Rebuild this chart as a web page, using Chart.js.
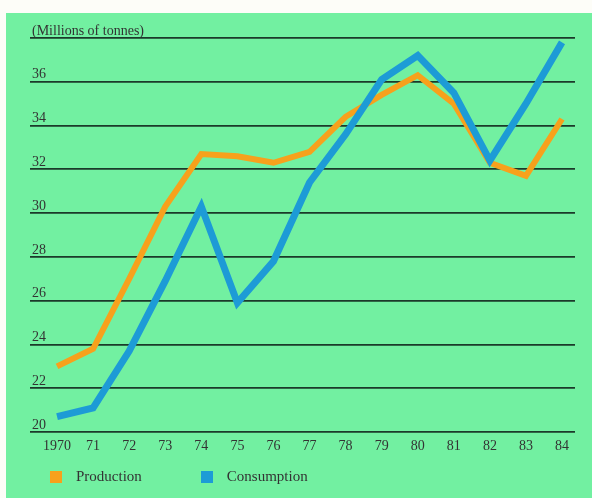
<!DOCTYPE html>
<html>
<head>
<meta charset="utf-8">
<script src="https://cdn.jsdelivr.net/npm/chart.js@4/dist/chart.umd.min.js"></script>
<style>
  html, body { margin:0; padding:0; background:#fdfdf8; }
  body { width:592px; height:498px; position:relative; overflow:hidden; font-family:'Liberation Serif', serif; }
  .panel { position:absolute; left:6px; top:13px; width:586px; height:485px; background:#72f0a1; }
  #graphique { position:absolute; left:0; top:0; }
  .legende { position:absolute; top:468px; left:50px; display:flex; color:#333; font-size:15px; }
  .legende span { display:flex; align-items:center; }
  .legende i { display:inline-block; width:12px; height:12px; margin-right:14px; }
</style>
</head>
<body>
<div class="panel"></div>
<canvas id="graphique" width="592" height="498"></canvas>
<div class="legende">
  <span style="margin-right:59px"><i style="background:#f7a11c"></i>Production</span>
  <span><i style="background:#1d9bd6"></i>Consumption</span>
</div>
<script>
const annees       = ['1970','71','72','73','74','75','76','77','78','79','80','81','82','83','84'];
const production   = [23.0, 23.8, 27.0, 30.3, 32.7, 32.6, 32.3, 32.8, 34.4, 35.4, 36.3, 35.0, 32.3, 31.7, 34.3];
const consommation = [20.7, 21.1, 23.7, 26.9, 30.3, 25.9, 27.8, 31.4, 33.6, 36.1, 37.2, 35.5, 32.4, 35.0, 37.8];
const graduations  = [20, 22, 24, 26, 28, 30, 32, 34, 36, 38];

const enPoints = (serie) => serie.map((v, i) => ({ x: i, y: v }));

const police = { family: "'Liberation Serif', serif", size: 14 };

new Chart(document.getElementById('graphique'), {
  type: 'line',
  data: {
    datasets: [
      {
        label: 'Consumption',
        data: enPoints(consommation),
        borderColor: '#1d9bd6',
        borderWidth: 7,
        borderJoinStyle: 'miter',
        borderCapStyle: 'butt',
        pointRadius: 0,
        tension: 0
      },
      {
        label: 'Production',
        data: enPoints(production),
        borderColor: '#f7a11c',
        borderWidth: 6,
        borderJoinStyle: 'miter',
        borderCapStyle: 'butt',
        pointRadius: 0,
        tension: 0
      }
    ]
  },
  options: {
    responsive: false,
    animation: false,
    layout: { padding: { left: 30, right: 17, top: 38, bottom: 0 } },
    plugins: { legend: { display: false }, tooltip: { enabled: false } },
    scales: {
      x: {
        type: 'linear',
        min: -0.75,
        max: 14.36,
        afterFit: (s) => { s.height = 66; },
        grid: { display: false },
        border: { display: false },
        ticks: {
          stepSize: 1,
          includeBounds: false,
          autoSkip: false,
          maxRotation: 0,
          padding: -2,
          color: '#333',
          font: police,
          callback: (v) => annees[v] ?? ''
        }
      },
      y: {
        min: graduations[0],
        max: graduations[graduations.length - 1],
        afterFit: (s) => { s.width = 0; },
        afterBuildTicks: (s) => { s.ticks = graduations.map(v => ({ value: v })); },
        grid: { color: '#1b3a2a', lineWidth: 1.8, drawTicks: false },
        border: { display: false },
        ticks: {
          mirror: true,
          padding: 2,
          labelOffset: -7,
          color: '#333',
          font: police,
          callback: (v) => v === 38 ? '(Millions of tonnes)' : v
        }
      }
    }
  }
});
</script>
</body>
</html>
